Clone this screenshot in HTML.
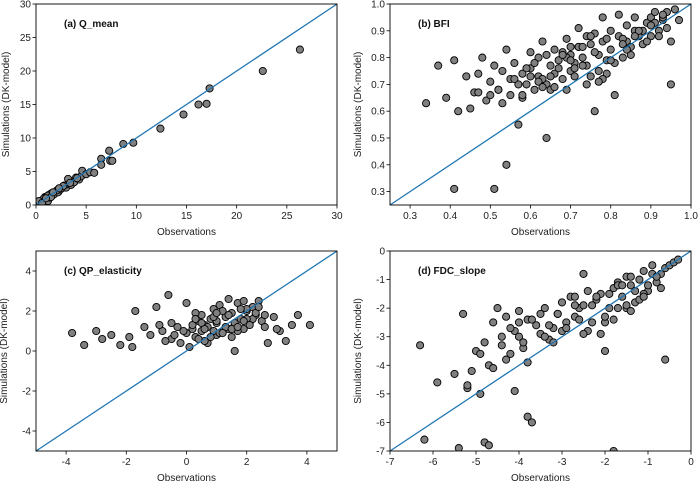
<!DOCTYPE html>
<html><head><meta charset="utf-8"><style>
html,body{margin:0;padding:0;background:#fff;}
svg{display:block;font-family:"Liberation Sans","DejaVu Sans",sans-serif;}
</style></head><body>
<svg id="fig" width="698" height="481" viewBox="0 0 698 481"></svg>
<script>
const aObs=[0.1,0.2,0.3,0.4,0.5,0.6,0.7,0.8,0.9,1.0,1.1,1.2,1.3,1.4,1.5,1.6,1.8,2.0,2.2,2.4,2.6,2.8,3.0,3.2,3.2,3.5,3.8,4.0,4.3,4.5,4.6,5.0,5.4,5.8,6.5,6.5,7.3,7.4,7.6,8.7,9.7,12.4,14.7,16.2,17.0,17.3,22.6,26.3,0.8,1.2,1.5,2.1,2.7,0.3,0.6,1.0,1.7,2.3,3.4,4.1];
const aSim=[0.1,0.3,0.2,0.5,0.4,0.7,0.5,0.9,1.2,0.8,1.3,0.6,1.5,1.1,1.7,1.4,1.6,2.0,1.9,2.3,2.5,2.9,2.6,3.1,3.9,3.0,3.4,4.1,3.8,4.3,5.1,4.6,4.9,4.8,6.9,6.0,8.1,6.6,6.6,9.1,9.3,11.4,13.5,15.0,15.1,17.4,20.0,23.2,1.0,1.4,1.2,2.2,2.8,0.6,0.3,1.0,1.9,2.5,3.3,4.0];

const bObs=[0.34,0.37,0.39,0.41,0.41,0.42,0.44,0.45,0.46,0.47,0.48,0.49,0.5,0.5,0.51,0.51,0.52,0.53,0.54,0.54,0.55,0.55,0.56,0.57,0.58,0.58,0.59,0.6,0.6,0.61,0.62,0.62,0.63,0.64,0.64,0.65,0.66,0.66,0.67,0.68,0.69,0.69,0.7,0.7,0.71,0.72,0.72,0.73,0.74,0.75,0.75,0.76,0.76,0.77,0.78,0.78,0.79,0.8,0.8,0.81,0.82,0.82,0.83,0.84,0.84,0.85,0.86,0.86,0.87,0.88,0.89,0.9,0.9,0.91,0.92,0.93,0.94,0.95,0.95,0.96,0.61,0.63,0.68,0.74,0.79,0.57,0.53,0.47,0.65,0.7,0.83,0.88,0.93,
 0.52,0.56,0.59,0.62,0.64,0.66,0.67,0.69,0.71,0.72,0.73,0.74,0.76,0.77,0.78,0.79,0.81,0.83,0.85,0.87,0.89,0.91,0.92,0.94,0.6,0.63,0.68,0.71,0.75,0.8,0.84,0.86,0.9,0.93,0.97,0.58,0.65,0.7,0.73,0.77];
const bSim=[0.63,0.77,0.65,0.31,0.79,0.6,0.73,0.61,0.67,0.74,0.8,0.64,0.71,0.66,0.31,0.77,0.68,0.75,0.4,0.83,0.72,0.66,0.78,0.55,0.65,0.74,0.7,0.82,0.76,0.68,0.73,0.8,0.86,0.5,0.7,0.77,0.83,0.74,0.79,0.72,0.87,0.68,0.81,0.75,0.78,0.84,0.91,0.8,0.77,0.85,0.73,0.6,0.89,0.81,0.86,0.95,0.79,0.9,0.83,0.66,0.88,0.96,0.8,0.86,0.92,0.84,0.9,0.95,0.88,0.85,0.93,0.88,0.95,0.97,0.9,0.94,0.97,0.7,0.86,0.98,0.78,0.72,0.82,0.88,0.74,0.7,0.63,0.67,0.68,0.84,0.87,0.9,0.95,
 0.68,0.72,0.76,0.71,0.81,0.69,0.76,0.8,0.73,0.84,0.77,0.7,0.82,0.75,0.72,0.87,0.78,0.85,0.81,0.9,0.86,0.93,0.88,0.91,0.73,0.69,0.81,0.76,0.88,0.79,0.83,0.88,0.92,0.96,0.94,0.66,0.73,0.79,0.84,0.71];

const cObs=[-3.8,-3.4,-3.0,-2.8,-2.5,-2.2,-1.8,-1.7,-1.4,-1.0,-0.8,-0.6,-0.5,-0.3,-0.2,0.0,0.0,0.1,0.2,0.3,0.4,0.5,0.6,0.7,0.8,0.9,1.0,1.0,1.1,1.2,1.3,1.4,1.5,1.5,1.6,1.6,1.7,1.8,1.9,2.0,2.1,2.2,2.3,2.4,2.5,2.6,2.7,2.9,3.1,3.3,3.5,3.7,4.1,0.3,0.6,0.9,1.2,1.9,2.2,-0.4,-0.9,1.4,2.0,
 -1.9,-1.2,-0.7,-0.1,0.2,0.4,0.5,0.7,0.8,1.0,1.1,1.3,1.4,1.6,1.7,1.8,2.0,2.1,2.3,0.5,0.9,1.2,1.5,1.9,2.4,0.6,1.0,1.7,2.6,3.0,0.3,-0.5];
const cSim=[0.9,0.3,1.0,0.6,0.8,0.3,0.2,2.0,1.2,2.2,1.0,2.8,0.6,1.2,0.4,2.4,0.9,0.2,1.1,0.7,1.5,1.8,1.3,0.4,1.6,2.1,0.8,1.4,2.3,1.0,1.7,2.6,0.7,1.9,0.0,1.3,2.4,1.6,1.1,2.0,1.4,2.2,1.8,2.5,1.5,1.2,0.4,1.7,1.0,0.5,1.3,1.8,1.3,1.9,0.5,1.0,2.0,2.5,1.6,0.8,1.3,1.1,2.1,
 0.7,0.8,0.5,1.0,1.3,0.6,1.0,1.2,0.7,1.5,0.9,1.2,1.8,1.4,1.0,2.1,1.6,1.3,1.9,1.4,1.7,0.9,1.1,1.5,2.2,1.1,1.9,1.2,1.8,1.1,1.6,1.4];

const dObs=[-6.3,-6.2,-5.9,-5.5,-5.4,-5.3,-5.2,-5.1,-5.0,-4.9,-4.8,-4.8,-4.7,-4.6,-4.5,-4.4,-4.3,-4.2,-4.1,-4.1,-4.0,-3.9,-3.8,-3.8,-3.7,-3.6,-3.5,-3.4,-3.3,-3.2,-3.1,-3.0,-2.9,-2.8,-2.7,-2.6,-2.5,-2.5,-2.4,-2.3,-2.2,-2.1,-2.0,-1.9,-1.8,-1.8,-1.7,-1.6,-1.5,-1.4,-1.3,-1.2,-1.1,-1.0,-0.9,-0.8,-0.7,-0.6,-0.6,-0.5,-0.4,-0.3,-4.7,-4.4,-4.0,-3.5,-3.0,-2.7,-2.3,-2.0,-1.7,-1.4,-1.1,-0.9,-3.8,-3.2,-2.6,-1.5,
 -5.2,-4.9,-4.6,-4.3,-4.0,-3.7,-3.4,-3.1,-2.9,-2.7,-2.4,-2.2,-2.0,-1.9,-1.7,-1.6,-1.5,-1.3,-1.2,-1.0,-0.8,-0.7,-2.1,-1.8,-1.4,-1.1,-3.3,-2.5,-4.2,-3.9];
const dSim=[-3.3,-6.6,-4.6,-4.3,-6.9,-2.2,-4.8,-4.2,-3.5,-5.0,-6.7,-3.2,-6.8,-2.5,-2.0,-3.0,-2.3,-3.6,-2.8,-4.9,-2.1,-3.4,-5.8,-2.4,-6.0,-2.6,-2.9,-2.0,-3.1,-2.7,-2.2,-1.8,-2.5,-1.6,-2.3,-2.0,-0.8,-1.9,-1.4,-2.5,-1.7,-1.5,-3.5,-2.0,-7.0,-1.3,-1.1,-1.6,-0.9,-1.2,-1.8,-1.0,-0.7,-1.4,-0.5,-1.1,-0.8,-3.8,-0.6,-0.5,-0.4,-0.3,-4.0,-3.3,-2.5,-2.2,-2.8,-1.6,-1.9,-2.5,-1.2,-0.9,-1.5,-0.8,-3.9,-3.2,-2.4,-2.0,
 -4.7,-3.6,-4.1,-3.8,-3.0,-2.4,-3.0,-2.2,-2.7,-1.9,-2.8,-1.6,-2.3,-1.5,-2.0,-1.2,-1.9,-1.4,-1.7,-1.2,-0.9,-1.3,-2.9,-2.4,-2.1,-1.6,-2.6,-2.9,-2.7,-3.2];

const xTicksA=["0","5","10","15","20","25","30"], yTicksA=xTicksA;
const xTicksB=["0.3","0.4","0.5","0.6","0.7","0.8","0.9","1.0"], yTicksB=["0.3","0.4","0.5","0.6","0.7","0.8","0.9","1.0"];
const xTicksC=["-4","-2","0","2","4"], yTicksC=["-4","-2","0","2","4"];
const xTicksD=["-7","-6","-5","-4","-3","-2","-1","0"], yTicksD=xTicksD;

const NS="http://www.w3.org/2000/svg";
const svg=document.getElementById('fig');
function mk(tag,attrs,parent){const e=document.createElementNS(NS,tag);for(const k in attrs)e.setAttribute(k,attrs[k]);(parent||svg).appendChild(e);return e;}

const panels=[
 {id:'a',title:'(a) Q_mean',L:36,R:337,T:4,B:205,min:0,max:30,xs:aObs,ys:aSim,xt:xTicksA,yt:yTicksA,ylx:9},
 {id:'b',title:'(b) BFI',L:390,R:691,T:4,B:205,min:0.25,max:1.0,xs:bObs,ys:bSim,xt:xTicksB,yt:yTicksB,ylx:361},
 {id:'c',title:'(c) QP_elasticity',L:36,R:337,T:251,B:451,min:-5,max:5,xs:cObs,ys:cSim,xt:xTicksC,yt:yTicksC,ylx:7},
 {id:'d',title:'(d) FDC_slope',L:390,R:691,T:251,B:451,min:-7,max:0,xs:dObs,ys:dSim,xt:xTicksD,yt:yTicksD,ylx:361}
];
panels.forEach(p=>{
 const g=mk('g',{});
 
 
 const sx=v=>p.L+(v-p.min)/(p.max-p.min)*(p.R-p.L);
 const sy=v=>p.B-(v-p.min)/(p.max-p.min)*(p.B-p.T);
 const clip=mk('clipPath',{id:'clip'+p.id},g);
 mk('rect',{x:p.L,y:p.T,width:p.R-p.L,height:p.B-p.T},clip);
 const pts=mk('g',{'clip-path':'url(#clip'+p.id+')'},g);
 
 
 for(let i=0;i<p.xs.length;i++){
  const c=mk('circle',{cx:sx(p.xs[i]).toFixed(1),cy:sy(p.ys[i]).toFixed(1),r:3.6,fill:'#808080',stroke:'#000','stroke-width':0.9},pts);
  
  
 }
 const ln=mk('line',{x1:sx(p.min),y1:sy(p.min),x2:sx(p.max),y2:sy(p.max),stroke:'#1f77b4','stroke-width':1.3},g);
 
 
 const fr=mk('rect',{x:p.L,y:p.T,width:p.R-p.L,height:p.B-p.T,fill:'none',stroke:'#000','stroke-width':0.9},g);
 
 
 p.xt.forEach(t=>{const v=parseFloat(t),x=sx(v);
  mk('line',{x1:x,y1:p.B,x2:x,y2:p.B+3.5,stroke:'#000','stroke-width':0.8},g);
  const tx=mk('text',{x:x,y:p.B+14,'font-size':10,'text-anchor':'middle',fill:'#222'},g);tx.textContent=t;
  
  });
 p.yt.forEach(t=>{const v=parseFloat(t),y=sy(v);
  mk('line',{x1:p.L-3.5,y1:y,x2:p.L,y2:y,stroke:'#000','stroke-width':0.8},g);
  const tx=mk('text',{x:p.L-5,y:y+3.5,'font-size':10,'text-anchor':'end',fill:'#222'},g);tx.textContent=t;
  
  });
 const xl=mk('text',{x:(p.L+p.R)/2,y:p.B+30,'font-size':10,'text-anchor':'middle',fill:'#222'},g);xl.textContent='Observations';
 
 
 const yc=(p.T+p.B)/2;
 const yl=mk('text',{x:p.ylx,y:yc,'font-size':10,'text-anchor':'middle',fill:'#222',transform:'rotate(-90 '+p.ylx+' '+yc+')'},g);yl.textContent='Simulations (DK-model)';
 
 
 const ti=mk('text',{x:p.L+28,y:p.T+23,'font-size':10,'font-weight':'bold',fill:'#111'},g);ti.textContent=p.title;
 
 
});
</script>
</body></html>
